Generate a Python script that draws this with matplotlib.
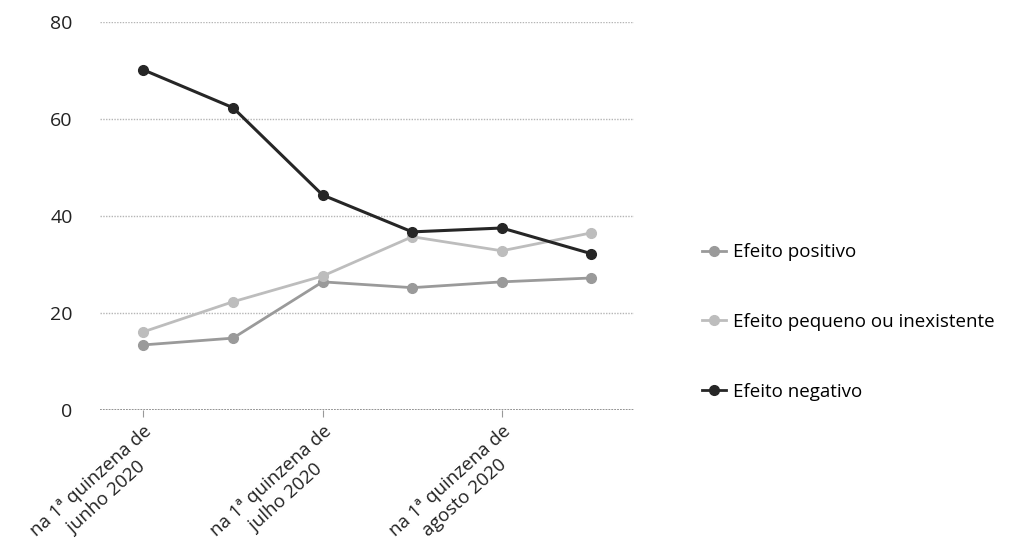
import matplotlib
matplotlib.use("Agg")
import matplotlib.pyplot as plt
from matplotlib.lines import Line2D

plt.rcParams['font.family'] = ['Open Sans', 'DejaVu Sans']

periods = ["na 1ª quinzena de\njunho 2020", "na 2ª quinzena de\njunho 2020",
           "na 1ª quinzena de\njulho 2020", "na 2ª quinzena de\njulho 2020",
           "na 1ª quinzena de\nagosto 2020", "na 2ª quinzena de\nagosto 2020"]
tick_idx = [0, 2, 4]
positivo = [13.4, 14.8, 26.4, 25.2, 26.4, 27.2]
pequeno = [16.1, 22.3, 27.6, 35.7, 32.8, 36.5]
negativo = [70.1, 62.3, 44.3, 36.7, 37.5, 32.2]
series_names = ["Efeito positivo", "Efeito pequeno ou inexistente", "Efeito negativo"]
colors = ["#9a9a9a", "#bdbdbd", "#262626"]

fig = plt.figure(figsize=(10.35, 5.6), dpi=100)
ax = fig.add_axes([0.097, 0.268, 0.516, 0.693])

x = list(range(len(periods)))
for vals, name, c, lw in zip([positivo, pequeno, negativo], series_names, colors, [2.0, 2.0, 2.2]):
    ax.plot(x, vals, color=c, lw=lw, marker='o', ms=7, mfc=c, mec=c, label=name, zorder=3)

ax.set_xlim(-0.48, 5.48)
ax.set_ylim(0, 80)
ax.set_yticks([0, 20, 40, 60, 80])
ax.tick_params(axis='y', length=0, labelsize=14, pad=20, colors='#222222')
for y in [20, 40, 60, 80]:
    ax.axhline(y, color='#b5b5b5', lw=1.0, ls=(0, (1, 1)), zorder=1)
ax.axhline(0, color='#8a8a8a', lw=1.3, ls=(0, (1, 0.6)), zorder=1)
for s in ax.spines.values():
    s.set_visible(False)

ax.set_xticks([x[i] for i in tick_idx])
ax.set_xticklabels([periods[i] for i in tick_idx], rotation=42, ha='right',
                   rotation_mode='anchor', multialignment='center', fontsize=13.5,
                   color='#222222', linespacing=1.3)
ax.tick_params(axis='x', length=5, color='#999999', pad=4)

handles = [Line2D([], [], color=c, lw=2, marker='o', ms=7, mfc=c, mec=c) for c in colors]
fig.legend(handles, series_names, loc='center left', bbox_to_anchor=(0.662, 0.425),
           frameon=False, fontsize=13.5, labelspacing=2.75, handlelength=1.3,
           handletextpad=0.35)

fig.savefig("out.png", dpi=100, facecolor='white')
